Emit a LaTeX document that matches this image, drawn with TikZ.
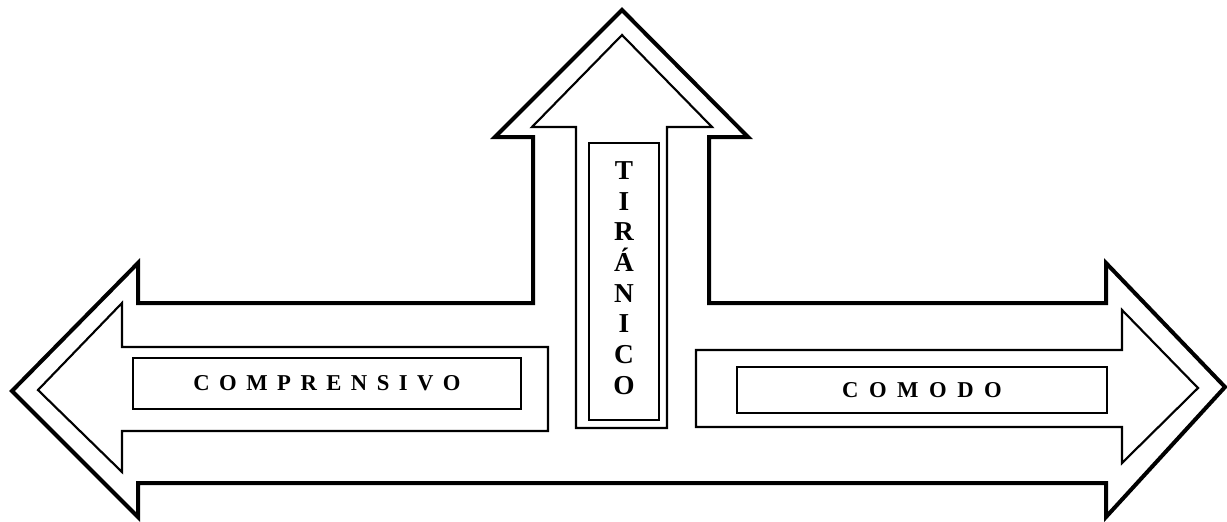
\documentclass[tikz,border=0pt]{standalone}
\usepackage{fontspec}
\setmainfont{Liberation Serif}
\newcommand{\lsp}{\hspace{7.1pt}}
\newcommand{\lspb}{\hspace{7.9pt}}
\tikzset{
  outerarrow/.style={draw=black, line width=3pt, line join=miter},
  innerarrow/.style={draw=black, line width=1.6pt, line join=miter},
  labelbox/.style={draw=black, line width=1.1pt, inner sep=0pt, font=\bfseries\fontsize{17pt}{20pt}\selectfont},
}
\begin{document}
\begin{tikzpicture}[x=0.75pt, y=-0.75pt]
\useasboundingbox (0,0) rectangle (1227,521);
% outer outline
\draw[outerarrow] (12,391) -- (138,263) -- (138,303) -- (533,303) -- (533,137) -- (495,137) -- (622,10) -- (748,137) -- (709,137) -- (709,303) -- (1106,303) -- (1106,263) -- (1225,387) -- (1106,517) -- (1106,483) -- (138,483) -- (138,517) -- cycle;
% inner arrows
\draw[innerarrow] (38,390) -- (122,303) -- (122,347) -- (548,347) -- (548,431) -- (122,431) -- (122,472) -- cycle;
\draw[innerarrow] (576,428) -- (576,127) -- (532,127) -- (622,35) -- (712,127) -- (667,127) -- (667,428) -- cycle;
\draw[innerarrow] (696,350) -- (1122,350) -- (1122,310) -- (1198,388) -- (1122,463) -- (1122,427) -- (696,427) -- cycle;
% label boxes
\node[labelbox, minimum width=388*0.75pt, minimum height=51*0.75pt] (comp) at (327,383.5)
  {C\lsp O\lsp M\lsp P\lsp R\lsp E\lsp N\lsp S\lsp I\lsp V\lsp O};
\node[labelbox, minimum width=370*0.75pt, minimum height=46*0.75pt] (como) at (922,390)
  {C\lspb O\lspb M\lspb O\lspb D\lspb O};
\node[draw=black, line width=1.1pt, inner sep=0pt, minimum width=70*0.75pt, minimum height=277*0.75pt] (tirbox) at (624,281.5) {};
\node[align=center, inner sep=0pt, font=\bfseries\fontsize{20.5pt}{23pt}\selectfont] (tir) at (624,278)
  {T\\I\\R\\Á\\N\\I\\C\\O};
\end{tikzpicture}
\end{document}
